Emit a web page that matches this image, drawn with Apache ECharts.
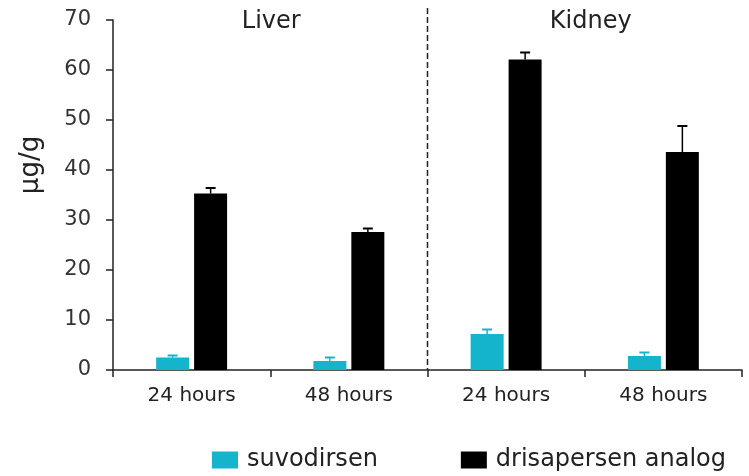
<!DOCTYPE html>
<html>
<head>
<meta charset="utf-8">
<script src="https://cdn.jsdelivr.net/npm/echarts@6/dist/echarts.min.js"></script>
<style>
  html, body { margin: 0; padding: 0; background: #fff; }
  #main { width: 749px; height: 476px; }
</style>
</head>
<body>
<div id="main"></div>
<script>
// tick labels along the x axis, and the tissue groups they belong to
var timepoints = ['24 hours', '48 hours', '24 hours', '48 hours'];
var tissues = ['Liver', 'Kidney'];

// mean values (µg/g) and top of the error bars
var suvodirsen = [2.5, 1.8, 7.2, 2.8];
var suvodirsenErr = [2.9, 2.5, 8.1, 3.5];
var drisapersen = [35.3, 27.6, 62.1, 43.6];
var drisapersenErr = [36.4, 28.3, 63.5, 48.8];

var CYAN = '#14b4cc';
var FONT = 'DejaVu Sans';
var barW = 33;
var offset = 19; // half the distance between the two bar centres

var myChart = echarts.init(document.getElementById('main'));

function errorSeries(name, tops, means, dx, color) {
  return {
    type: 'custom',
    name: name + '-err',
    z: 5,
    silent: true,
    data: tops.map(function (t, i) { return [i, means[i], t]; }),
    renderItem: function (params, api) {
      var base = api.coord([api.value(0), api.value(1)]);
      var top = api.coord([api.value(0), api.value(2)]);
      var x = base[0] + dx;
      return {
        type: 'group',
        children: [
          { type: 'line', shape: { x1: x, y1: base[1], x2: x, y2: top[1] }, style: { stroke: color, lineWidth: 1.5 } },
          { type: 'line', shape: { x1: x - 5, y1: top[1], x2: x + 5, y2: top[1] }, style: { stroke: color, lineWidth: 2 } }
        ]
      };
    }
  };
}

var option = {
  animation: false,
  textStyle: { fontFamily: FONT },
  grid: { left: 113, right: 7, top: 20, bottom: 106 },
  legend: {
    left: 212,
    top: 448,
    padding: 0,
    itemWidth: 26,
    itemHeight: 17,
    itemGap: 83,
    icon: 'rect',
    data: ['suvodirsen', 'drisapersen analog'],
    textStyle: { fontSize: 24, color: '#222', fontFamily: FONT, padding: [0, 0, 0, 4] }
  },
  xAxis: {
    type: 'category',
    data: timepoints,
    axisLine: { lineStyle: { color: '#222', width: 1.5 } },
    axisTick: { show: true, length: 7, lineStyle: { color: '#222', width: 1.5 } },
    axisLabel: { fontSize: 20, color: '#222', margin: 16, fontFamily: FONT }
  },
  yAxis: {
    type: 'value',
    min: 0,
    max: 70,
    interval: 10,
    splitLine: { show: false },
    axisLine: { show: true, lineStyle: { color: '#222', width: 1.5 } },
    axisTick: { show: true, length: 7, lineStyle: { color: '#222', width: 1.5 } },
    axisLabel: { fontSize: 21, color: '#333', margin: 22, fontFamily: FONT }
  },
  series: [
    {
      name: 'suvodirsen',
      type: 'bar',
      data: suvodirsen,
      barWidth: barW,
      barGap: '15%',
      itemStyle: { color: CYAN }
    },
    {
      name: 'drisapersen analog',
      type: 'bar',
      data: drisapersen,
      barWidth: barW,
      barGap: '15%',
      itemStyle: { color: '#000' }
    },
    errorSeries('suvodirsen', suvodirsenErr, suvodirsen, -offset, CYAN),
    errorSeries('drisapersen analog', drisapersenErr, drisapersen, offset, '#000')
  ]
};

myChart.setOption(option);

// group separator and group titles, placed from the axis
var c0 = myChart.convertToPixel({ xAxisIndex: 0 }, 0);
var c1 = myChart.convertToPixel({ xAxisIndex: 0 }, 1);
var c2 = myChart.convertToPixel({ xAxisIndex: 0 }, 2);
var c3 = myChart.convertToPixel({ xAxisIndex: 0 }, 3);
var yZero = myChart.convertToPixel({ yAxisIndex: 0 }, 0);
var sepX = (c1 + c2) / 2;

myChart.setOption({
  graphic: [
    {
      type: 'line',
      shape: { x1: sepX, y1: 8, x2: sepX, y2: yZero },
      style: { stroke: '#222', lineWidth: 1.5, lineDash: [6, 3] }
    },
    {
      type: 'text',
      x: (c0 + c1) / 2 + 1, y: 22,
      style: { text: tissues[0], fontSize: 24, fill: '#222', fontFamily: FONT, align: 'center', verticalAlign: 'middle' }
    },
    {
      type: 'text',
      x: (c2 + c3) / 2 + 6, y: 22,
      style: { text: tissues[1], fontSize: 24, fill: '#222', fontFamily: FONT, align: 'center', verticalAlign: 'middle' }
    },
    {
      type: 'text',
      x: 31, y: 165,
      rotation: Math.PI / 2,
      style: { text: 'μg/g', fontSize: 26, fill: '#222', fontFamily: FONT, align: 'center', verticalAlign: 'middle' }
    }
  ]
});

window.addEventListener('resize', myChart.resize);
</script>
</body>
</html>
